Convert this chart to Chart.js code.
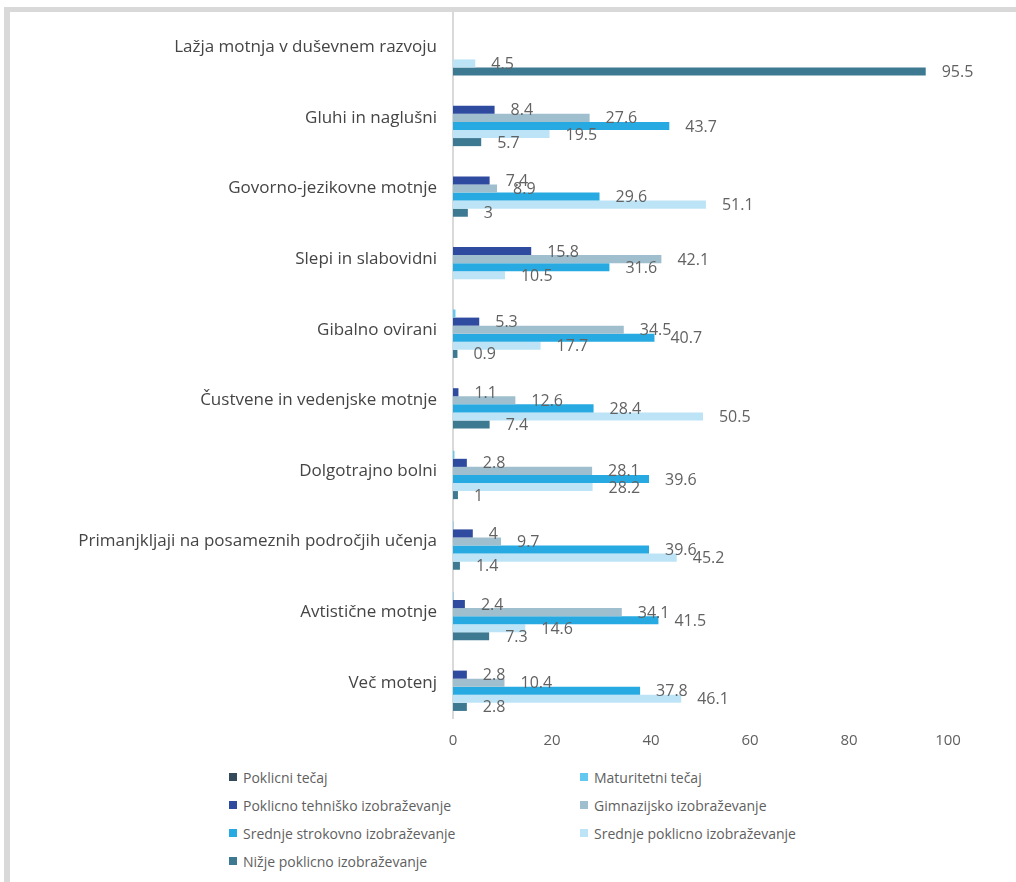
<!DOCTYPE html>
<html>
<head>
<meta charset="utf-8">
<script src="https://cdn.jsdelivr.net/npm/chart.js@4.4.1/dist/chart.umd.min.js"></script>
<style>
  body { margin: 0; background: #fff; overflow: hidden; font-family: "Open Sans", sans-serif; }
  #frame {
    position: absolute; left: 4px; top: 7px; width: 1100px; height: 1000px;
    border-top: 5px solid #d9d9d9; border-left: 6px solid #d9d9d9;
  }
  #wrap { position: absolute; left: 0; top: 0; width: 1016px; height: 760px; }
  #legend {
    position: absolute; left: 229px; top: 763px;
    display: grid; grid-template-columns: 351px 300px;
    grid-auto-rows: 28px; font-size: 14px; color: #5f5f5f;
  }
  #legend div { display: flex; align-items: center; }
  #legend span.box { width: 8px; height: 8px; margin-right: 6px; display: inline-block; }
</style>
</head>
<body>
<div id="frame"></div>
<div id="wrap"><canvas id="chart" width="1016" height="760"></canvas></div>
<div id="legend"></div>
<script>
// categories (top to bottom)
const categories = [
  'Lažja motnja v duševnem razvoju',
  'Gluhi in naglušni',
  'Govorno-jezikovne motnje',
  'Slepi in slabovidni',
  'Gibalno ovirani',
  'Čustvene in vedenjske motnje',
  'Dolgotrajno bolni',
  'Primanjkljaji na posameznih področjih učenja',
  'Avtistične motnje',
  'Več motenj'
];

// series (percent)
const poklicniTecaj     = [0, 0, 0, 0, 0, 0, 0, 0, 0, 0];
const maturitetniTecaj  = [0, 0, 0, 0, 0.5, 0, 0.3, 0.1, 0.1, 0];
const poklicnoTehnisko  = [0, 8.4, 7.4, 15.8, 5.3, 1.1, 2.8, 4, 2.4, 2.8];
const gimnazijsko       = [0, 27.6, 8.9, 42.1, 34.5, 12.6, 28.1, 9.7, 34.1, 10.4];
const srednjeStrokovno  = [0, 43.7, 29.6, 31.6, 40.7, 28.4, 39.6, 39.6, 41.5, 37.8];
const srednjePoklicno   = [4.5, 19.5, 51.1, 10.5, 17.7, 50.5, 28.2, 45.2, 14.6, 46.1];
const nizjePoklicno     = [95.5, 5.7, 3, 0, 0.9, 7.4, 1, 1.4, 7.3, 2.8];

const xTicks = [0, 20, 40, 60, 80, 100];

// value labels next to the bars (no datalabels plugin available)
const valueLabels = {
  id: 'valueLabels',
  afterDatasetsDraw(chart) {
    const ctx = chart.ctx;
    ctx.save();
    ctx.font = '16px "Open Sans"';
    ctx.fillStyle = '#626262';
    ctx.textBaseline = 'middle';
    ctx.textAlign = 'left';
    chart.data.datasets.forEach((ds, i) => {
      if (ds.hideLabels) return;
      chart.getDatasetMeta(i).data.forEach((bar, j) => {
        const v = ds.data[j];
        if (!v) return;
        ctx.fillText(String(v), bar.x + 16, bar.y + 1);
      });
    });
    ctx.restore();
  }
};

const chart = new Chart('chart', {
  type: 'bar',
  data: {
    labels: categories,
    datasets: [
      { label: 'Poklicni tečaj', data: poklicniTecaj, backgroundColor: '#34495a' },
      { label: 'Maturitetni tečaj', data: maturitetniTecaj, backgroundColor: '#63c8ef', hideLabels: true },
      { label: 'Poklicno tehniško izobraževanje', data: poklicnoTehnisko, backgroundColor: '#2f4b9f' },
      { label: 'Gimnazijsko izobraževanje', data: gimnazijsko, backgroundColor: '#a0bfce' },
      { label: 'Srednje strokovno izobraževanje', data: srednjeStrokovno, backgroundColor: '#27aae1' },
      { label: 'Srednje poklicno izobraževanje', data: srednjePoklicno, backgroundColor: '#bde4f6' },
      { label: 'Nižje poklicno izobraževanje', data: nizjePoklicno, backgroundColor: '#3d7a92' }
    ]
  },
  plugins: [valueLabels],
  options: {
    indexAxis: 'y',
    responsive: false,
    animation: false,
    categoryPercentage: 0.8,
    barPercentage: 1.0,
    layout: { padding: { top: 12, right: 68, bottom: 0, left: 0 } },
    scales: {
      x: {
        min: 0,
        max: 100,
        afterBuildTicks: (scale) => { scale.ticks = xTicks.map(v => ({ value: v })); },
        afterFit: (scale) => { scale.height = 42; scale.paddingLeft = 0; scale.paddingRight = 0; },
        grid: { display: false, drawTicks: false },
        border: { display: false },
        ticks: { padding: 14, color: '#5f5f5f', font: { family: 'Open Sans', size: 15 } }
      },
      y: {
        afterFit: (scale) => { scale.width = 453; scale.paddingTop = 0; scale.paddingBottom = 0; },
        grid: { display: false, drawTicks: false },
        border: { display: true, color: '#d9d9d9', width: 2 },
        ticks: { padding: 16, color: '#454545', font: { family: 'Open Sans', size: 17 } }
      }
    },
    plugins: {
      legend: { display: false },
      tooltip: { enabled: false }
    }
  }
});

// legend in two columns, built from the datasets
const legend = document.getElementById('legend');
chart.data.datasets.forEach(ds => {
  const item = document.createElement('div');
  item.innerHTML = '<span class="box" style="background:' + ds.backgroundColor + '"></span>' + ds.label;
  legend.appendChild(item);
});
</script>
</body>
</html>
